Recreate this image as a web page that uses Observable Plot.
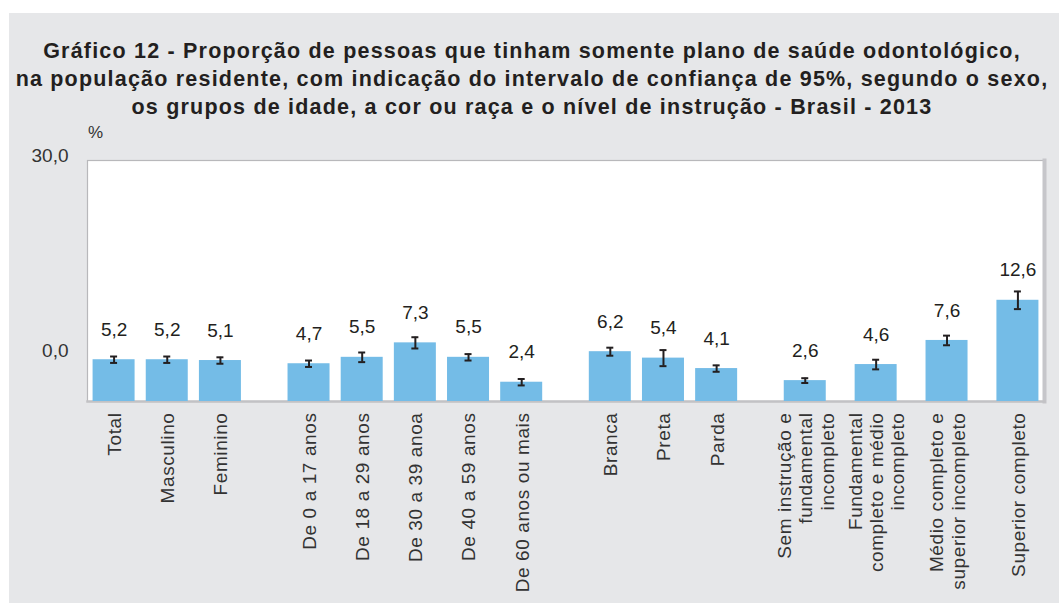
<!DOCTYPE html>
<html>
<head>
<meta charset="utf-8">
<script src="https://cdn.jsdelivr.net/npm/d3@7"></script>
<script src="https://cdn.jsdelivr.net/npm/@observablehq/plot@0.6"></script>
<style>
  html, body { margin: 0; padding: 0; background: #ffffff; }
  body { width: 1059px; height: 603px; position: relative; overflow: hidden; font-family: "Liberation Sans", Arial, sans-serif; }
  #panel { position: absolute; left: 9px; top: 13px; width: 1050px; height: 590px; background: #e6e7e9; }
  #title { position: absolute; left: 5px; top: 37px; width: 1054px; text-align: center; font-weight: bold; font-size: 21.5px; letter-spacing: 1.2px; line-height: 28px; color: #231f20; white-space: nowrap; }
  #unit { position: absolute; left: 88px; top: 123px; font-size: 17px; line-height: 20px; color: #333; }
  #chart { position: absolute; left: 0; top: 120px; }
  #chart svg g[aria-label="x-axis tick label"] text { letter-spacing: 0.6px; }
</style>
</head>
<body>
<div id="panel"></div>
<div id="title">Gráfico 12 - Proporção de pessoas que tinham somente plano de saúde odontológico,<br>na população residente, com indicação do intervalo de confiança de 95%, segundo o sexo,<br>os grupos de idade, a cor ou raça e o nível de instrução - Brasil - 2013</div>
<div id="unit">%</div>
<div id="chart"></div>
<script>
const categories = [
  "Total", "Masculino", "Feminino",
  "De 0 a 17 anos", "De 18 a 29 anos", "De 30 a 39 anoa", "De 40 a 59 anos", "De 60 anos ou mais",
  "Branca", "Preta", "Parda",
  "Sem instrução e\nfundamental\nincompleto", "Fundamental\ncompleto e médio\nincompleto",
  "Médio completo e\nsuperior incompleto", "Superior completo"
];
const groups = [
  "Sexo", "Sexo", "Sexo",
  "Idade", "Idade", "Idade", "Idade", "Idade",
  "Cor", "Cor", "Cor",
  "Instrução", "Instrução", "Instrução", "Instrução"
];
const values = [5.2, 5.2, 5.1, 4.7, 5.5, 7.3, 5.5, 2.4, 6.2, 5.4, 4.1, 2.6, 4.6, 7.6, 12.6];
const lower  = [4.8, 4.8, 4.7, 4.3, 4.9, 6.6, 5.1, 2.0, 5.7, 4.4, 3.7, 2.3, 4.0, 7.0, 11.5];
const upper  = [5.6, 5.6, 5.5, 5.1, 6.1, 8.0, 5.9, 2.8, 6.7, 6.4, 4.5, 2.9, 5.2, 8.2, 13.7];
const yTicks = [0, 30];

const fmt = d => d.toFixed(1).replace(".", ",");

const data = categories.map((c, i) => ({category: c, group: groups[i], value: values[i], lo: lower[i], hi: upper[i]}));

// band domain with empty spacer slots between bars and between groups
const domain = [];
let s = 0;
categories.forEach((c, i) => {
  if (i > 0) {
    const gap = groups[i] !== groups[i - 1] ? 4 : (groups[i] === "Instrução" ? 3 : 2);
    for (let k = 0; k < gap; k++) domain.push("__gap" + (s++));
  }
  domain.push(c);
});

const W = 1059, ML = 87, MR = 15;
const step = (W - ML - MR) / (domain.length + 2);
const barInset = (step - 42) / 2;
const capInset = (step - 7) / 2;

const chart = Plot.plot({
  width: W,
  height: 483,
  marginTop: 40,
  marginBottom: 202,
  marginLeft: ML,
  marginRight: MR,
  style: {fontFamily: "'Liberation Sans', Arial, sans-serif", fontSize: "19px", color: "#333", background: "transparent"},
  x: {domain, paddingInner: 0, paddingOuter: 1, axis: null},
  y: {domain: [0, 30], axis: null},
  marks: [
    Plot.frame({fill: "white", stroke: "#b8b8bb", strokeWidth: 1.2}),
    Plot.frame({anchor: "right", stroke: "#c6c6ca", strokeWidth: 4}),
    Plot.frame({anchor: "bottom", stroke: "#c2c2c5", strokeWidth: 2.5}),
    Plot.barY(data, {x: "category", y: "value", fill: "#74bce7", insetLeft: barInset, insetRight: barInset}),
    Plot.ruleX(data, {x: "category", y1: "lo", y2: "hi", stroke: "#231f20", strokeWidth: 2}),
    Plot.tickY(data, {x: "category", y: "lo", stroke: "#231f20", strokeWidth: 2, insetLeft: capInset, insetRight: capInset}),
    Plot.tickY(data, {x: "category", y: "hi", stroke: "#231f20", strokeWidth: 2, insetLeft: capInset, insetRight: capInset}),
    Plot.text(data, {x: "category", y: "value", text: d => fmt(d.value), dy: -30, fontSize: 19, fill: "#231f20"}),
    Plot.axisY({ticks: [yTicks[1]], tickFormat: fmt, tickSize: 0, tickPadding: 19, dy: -5, fontSize: 19, label: null, fill: "#333"}),
    Plot.axisY({ticks: [yTicks[0]], tickFormat: fmt, tickSize: 0, tickPadding: 19, dy: -51, fontSize: 19, label: null, fill: "#333"}),
    Plot.axisX({ticks: categories, tickFormat: d => d, tickRotate: -90, tickSize: 0, tickPadding: 11, fontSize: 19, lineHeight: 1.13, label: null, fill: "#333"})
  ]
});
document.getElementById("chart").appendChild(chart);
</script>
</body>
</html>
